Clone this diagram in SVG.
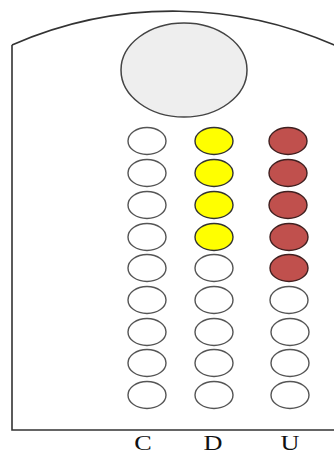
<svg xmlns="http://www.w3.org/2000/svg" width="334" height="454" viewBox="0 0 334 454">
<style>
.frame{fill:none;stroke:#333;stroke-width:1.6}
.e{fill:#fff;stroke:#555;stroke-width:1.4}
.y{fill:#ffff00;stroke:#333;stroke-width:1.4}
.r{fill:#c0504d;stroke:#402020;stroke-width:1.4}
.lbl{font-family:"Liberation Serif",serif;font-size:21px;fill:#111;text-anchor:middle}
</style>
<rect width="334" height="454" fill="#fff"/>
<g id="frame">
<path class="frame" d="M12,45 A400 400 0 0 1 345,50"/>
<path class="frame" d="M12,45 V430 H334"/>
</g>
<g id="lens"><ellipse cx="184" cy="70" rx="63" ry="47" fill="#eeeeee" stroke="#444" stroke-width="1.5"/></g>
<g id="colC">
<ellipse class="e" cx="147" cy="141" rx="19" ry="13.5"/>
<ellipse class="e" cx="147" cy="173" rx="19" ry="13.5"/>
<ellipse class="e" cx="147" cy="205" rx="19" ry="13.5"/>
<ellipse class="e" cx="147" cy="237" rx="19" ry="13.5"/>
<ellipse class="e" cx="147" cy="268" rx="19" ry="13.5"/>
<ellipse class="e" cx="147" cy="300" rx="19" ry="13.5"/>
<ellipse class="e" cx="147" cy="332" rx="19" ry="13.5"/>
<ellipse class="e" cx="147" cy="363" rx="19" ry="13.5"/>
<ellipse class="e" cx="147" cy="395" rx="19" ry="13.5"/>
</g>
<g id="colD">
<ellipse class="y" cx="214" cy="141" rx="19" ry="13.5"/>
<ellipse class="y" cx="214" cy="173" rx="19" ry="13.5"/>
<ellipse class="y" cx="214" cy="205" rx="19" ry="13.5"/>
<ellipse class="y" cx="214" cy="237" rx="19" ry="13.5"/>
<ellipse class="e" cx="214" cy="268" rx="19" ry="13.5"/>
<ellipse class="e" cx="214" cy="300" rx="19" ry="13.5"/>
<ellipse class="e" cx="214" cy="332" rx="19" ry="13.5"/>
<ellipse class="e" cx="214" cy="363" rx="19" ry="13.5"/>
<ellipse class="e" cx="214" cy="395" rx="19" ry="13.5"/>
</g>
<g id="colU">
<ellipse class="r" cx="288" cy="141" rx="19" ry="13.5"/>
<ellipse class="r" cx="288" cy="173" rx="19" ry="13.5"/>
<ellipse class="r" cx="288" cy="205" rx="19" ry="13.5"/>
<ellipse class="r" cx="289" cy="237" rx="19" ry="13.5"/>
<ellipse class="r" cx="289" cy="268" rx="19" ry="13.5"/>
<ellipse class="e" cx="289" cy="300" rx="19" ry="13.5"/>
<ellipse class="e" cx="290" cy="332" rx="19" ry="13.5"/>
<ellipse class="e" cx="290" cy="363" rx="19" ry="13.5"/>
<ellipse class="e" cx="290" cy="395" rx="19" ry="13.5"/>
</g>
<g id="labels">
<text class="lbl" x="143" y="450" transform="translate(143 0) scale(1.25 1) translate(-143 0)">C</text>
<text class="lbl" x="213" y="450" transform="translate(213 0) scale(1.25 1) translate(-213 0)">D</text>
<text class="lbl" x="290" y="450" transform="translate(290 0) scale(1.25 1) translate(-290 0)">U</text>
</g>
</svg>
